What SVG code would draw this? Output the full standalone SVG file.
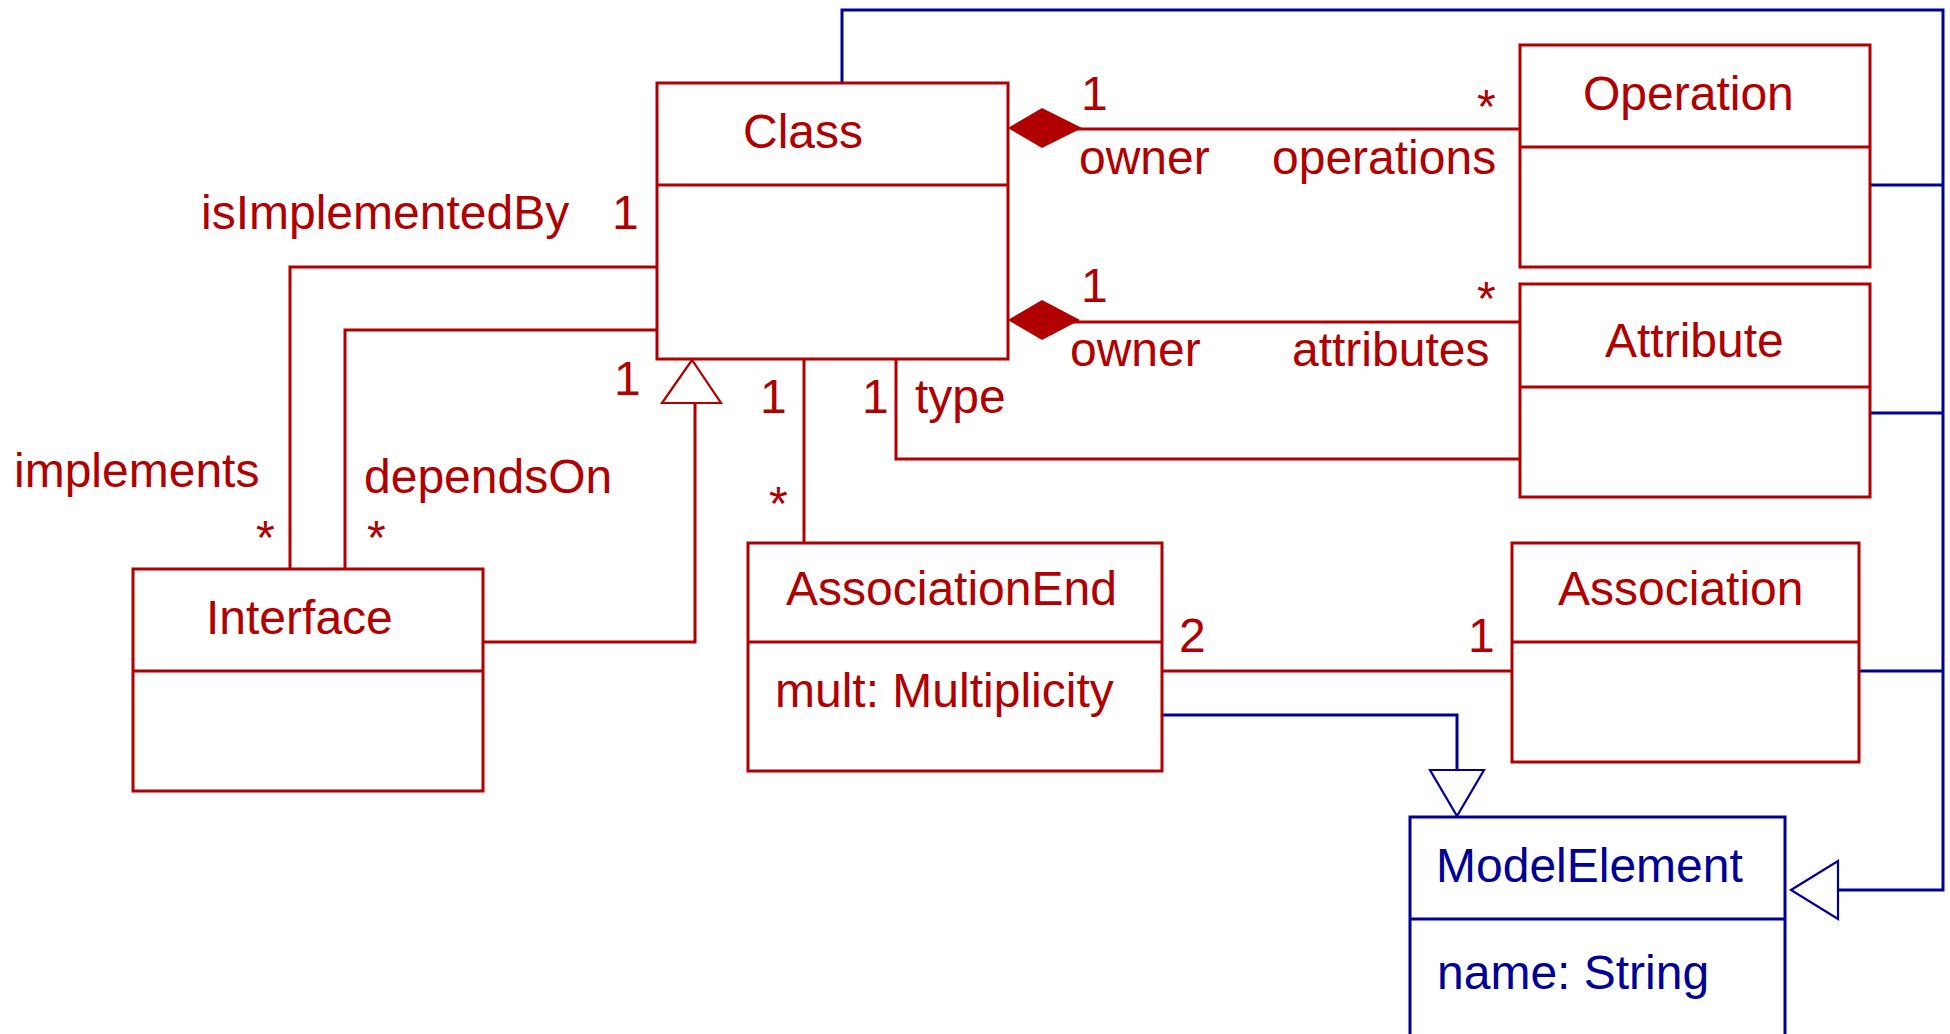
<svg xmlns="http://www.w3.org/2000/svg" width="1950" height="1034" viewBox="0 0 1950 1034">
<style>
.r{fill:#fff;stroke:#b00000;stroke-width:3}
.rd{stroke:#b00000;stroke-width:3;fill:none}
.b{fill:#fff;stroke:#000096;stroke-width:3}
.bd{stroke:#000096;stroke-width:3;fill:none}
.cr{stroke:#b00000;stroke-width:3;fill:none}
.cb{stroke:#000096;stroke-width:3;fill:none}
.tri-r{stroke:#b00000;stroke-width:2.2;fill:#fff}
.tri-b{stroke:#000096;stroke-width:2.2;fill:#fff}
text{font-family:"Liberation Sans",Arial,sans-serif;font-size:48px}
.tr{fill:#b00000}
.tb{fill:#000096}
</style>
<rect width="1950" height="1034" fill="#fff"/>
<g id="connectors">
<polyline class="cb" points="842,83 842,10 1943,10 1943,890 1838,890"/>
<polyline class="cb" points="1870,185 1943,185"/>
<polyline class="cb" points="1870,413 1943,413"/>
<polyline class="cb" points="1859,671 1943,671"/>
<polygon class="tri-b" points="1791,890 1838,861 1838,919"/>
<polyline class="cb" points="1162,715 1457,715 1457,770"/>
<polygon class="tri-b" points="1430,770 1484,770 1457,816"/>
<polyline class="cr" points="657,267 290,267 290,569"/>
<polyline class="cr" points="657,330 345,330 345,569"/>
<polyline class="cr" points="483,642 695,642 695,403"/>
<polygon class="tri-r" points="692,360 662,403 721,403"/>
<line class="cr" x1="804" y1="359" x2="804" y2="543"/>
<polyline class="cr" points="896,359 896,459 1520,459"/>
<line class="cr" x1="1060" y1="129" x2="1520" y2="129"/>
<polygon fill="#b00000" points="1008,128 1042,108 1082,128 1042,148"/>
<line class="cr" x1="1060" y1="322" x2="1520" y2="322"/>
<polygon fill="#b00000" points="1008,320 1042,300 1080,320 1042,340"/>
<line class="cr" x1="1162" y1="671" x2="1512" y2="671"/>
<g class="tr">
<text x="201" y="229">isImplementedBy</text>
<text x="612" y="229">1</text>
<text x="614" y="395">1</text>
<text x="760" y="413">1</text>
<text x="769" y="520">*</text>
<text x="862" y="413">1</text>
<text x="915" y="413">type</text>
<text x="14" y="487">implements</text>
<text x="364" y="493">dependsOn</text>
<text x="256" y="554">*</text>
<text x="367" y="554">*</text>
<text x="1081" y="110">1</text>
<text x="1477" y="123">*</text>
<text x="1079" y="174">owner</text>
<text x="1272" y="174">operations</text>
<text x="1081" y="302">1</text>
<text x="1477" y="315">*</text>
<text x="1070" y="366">owner</text>
<text x="1292" y="366">attributes</text>
<text x="1179" y="652">2</text>
<text x="1468" y="652">1</text>
</g>
</g>
<g id="Class">
<rect class="r" x="657" y="83" width="351" height="276"/>
<line class="rd" x1="657" y1="185" x2="1008" y2="185"/>
<text class="tr" x="743" y="148">Class</text>
</g>
<g id="Operation">
<rect class="r" x="1520" y="45" width="350" height="222"/>
<line class="rd" x1="1520" y1="147" x2="1870" y2="147"/>
<text class="tr" x="1583" y="110">Operation</text>
</g>
<g id="Attribute">
<rect class="r" x="1520" y="284" width="350" height="213"/>
<line class="rd" x1="1520" y1="387" x2="1870" y2="387"/>
<text class="tr" x="1605" y="357">Attribute</text>
</g>
<g id="Interface">
<rect class="r" x="133" y="569" width="350" height="222"/>
<line class="rd" x1="133" y1="671" x2="483" y2="671"/>
<text class="tr" x="206" y="634">Interface</text>
</g>
<g id="AssociationEnd">
<rect class="r" x="748" y="543" width="414" height="228"/>
<line class="rd" x1="748" y1="642" x2="1162" y2="642"/>
<text class="tr" x="786" y="605">AssociationEnd</text>
<text class="tr" x="775" y="707">mult: Multiplicity</text>
</g>
<g id="Association">
<rect class="r" x="1512" y="543" width="347" height="219"/>
<line class="rd" x1="1512" y1="642" x2="1859" y2="642"/>
<text class="tr" x="1558" y="605">Association</text>
</g>
<g id="ModelElement">
<rect class="b" x="1410" y="817" width="375" height="230"/>
<line class="bd" x1="1410" y1="919" x2="1785" y2="919"/>
<text class="tb" x="1436" y="882">ModelElement</text>
<text class="tb" x="1437" y="989">name: String</text>
</g>
</svg>
